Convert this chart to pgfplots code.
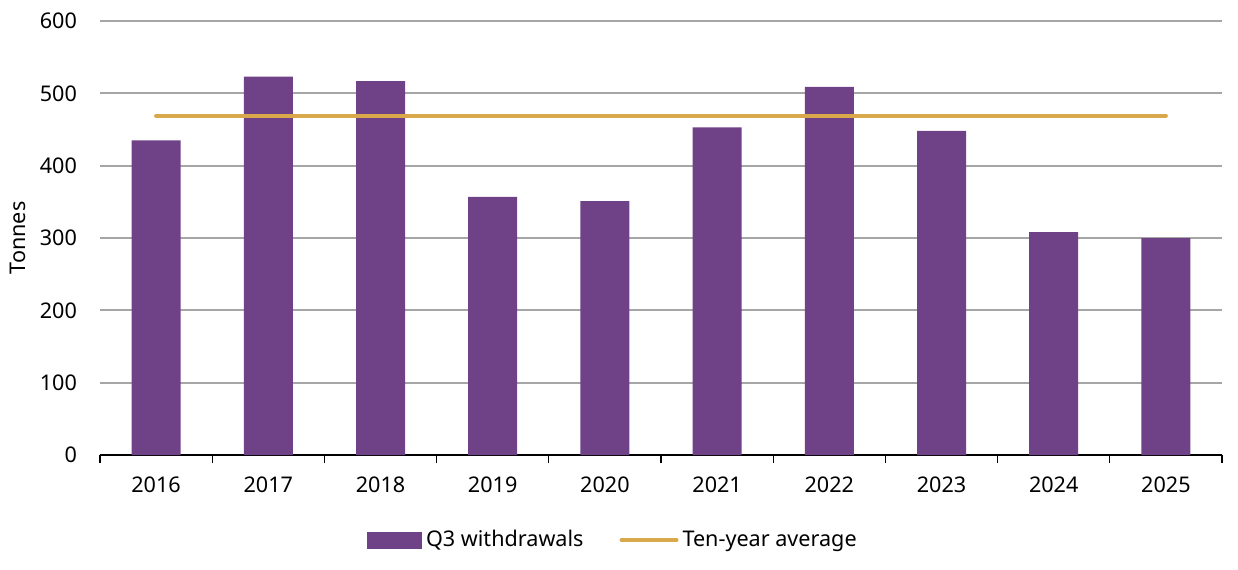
\documentclass[border=0pt]{standalone}
\usepackage{pgfplots}
\pgfplotsset{compat=1.18}
\usepackage{fontspec}
\setmainfont{Noto Sans}
\definecolor{barpurple}{HTML}{6F4288}
\definecolor{avggold}{HTML}{D9A84A}
\definecolor{gridgray}{HTML}{A6A6A6}
\begin{document}
\begin{tikzpicture}
\useasboundingbox (-50pt,-57pt) rectangle (569pt,227.5pt);
\begin{axis}[
    at={(0,0)}, anchor=south west,
    scale only axis,
    width=561pt, height=217pt,
    font=\fontsize{10.8pt}{12pt}\selectfont,
    /pgf/number format/assume math mode=true,
    xmin=-0.5, xmax=9.5,
    ymin=0, ymax=600,
    xtick={0,1,2,3,4,5,6,7,8,9},
    xticklabels={2016,2017,2018,2019,2020,2021,2022,2023,2024,2025},
    minor xtick={-0.5,0.5,1.5,2.5,3.5,4.5,5.5,6.5,7.5,8.5,9.5},
    ytick={0,100,...,600},
    axis x line*=bottom,
    axis y line*=left,
    x axis line style={black, line width=0.6pt},
    y axis line style={draw=none},
    ytick style={draw=none},
    tick align=outside,
    major tick length=0pt,
    minor tick length=4pt,
    minor tick style={black, line width=0.6pt},
    ymajorgrids,
    major grid style={gridgray, line width=1pt},
    x tick label style={anchor=north, yshift=-7.5pt},
    y tick label style={anchor=east, xshift=-8pt},
    ylabel={Tonnes},
    ylabel style={at={(axis description cs:-0.073,0.5)}, anchor=center},
    legend columns=2,
    legend style={at={(axis description cs:0.458,-0.196)}, anchor=center,
        draw=none, fill=none, font=\fontsize{10.8pt}{12pt}\selectfont,
        /tikz/every even column/.append style={column sep=16pt}},
    legend cell align=left,
]
\addplot[ybar, bar width=24.5pt, bar shift=0pt, fill=barpurple, draw=none,
    legend image code/.code={\fill[barpurple] (0pt,-4.25pt) rectangle (27.5pt,4.25pt);}]
coordinates {(0,435)(1,523)(2,517)(3,357)(4,351)(5,453)(6,509)(7,448)(8,308)(9,300)};
\addlegendentry{Q3 withdrawals}
\addplot[avggold, line width=2pt, line cap=round, mark=none,
    legend image code/.code={\draw[avggold, line width=2pt, line cap=round] (0pt,0pt) -- (27.5pt,0pt);}]
coordinates {(0,469)(9,469)};
\addlegendentry{Ten-year average}
\end{axis}
\end{tikzpicture}
\end{document}
